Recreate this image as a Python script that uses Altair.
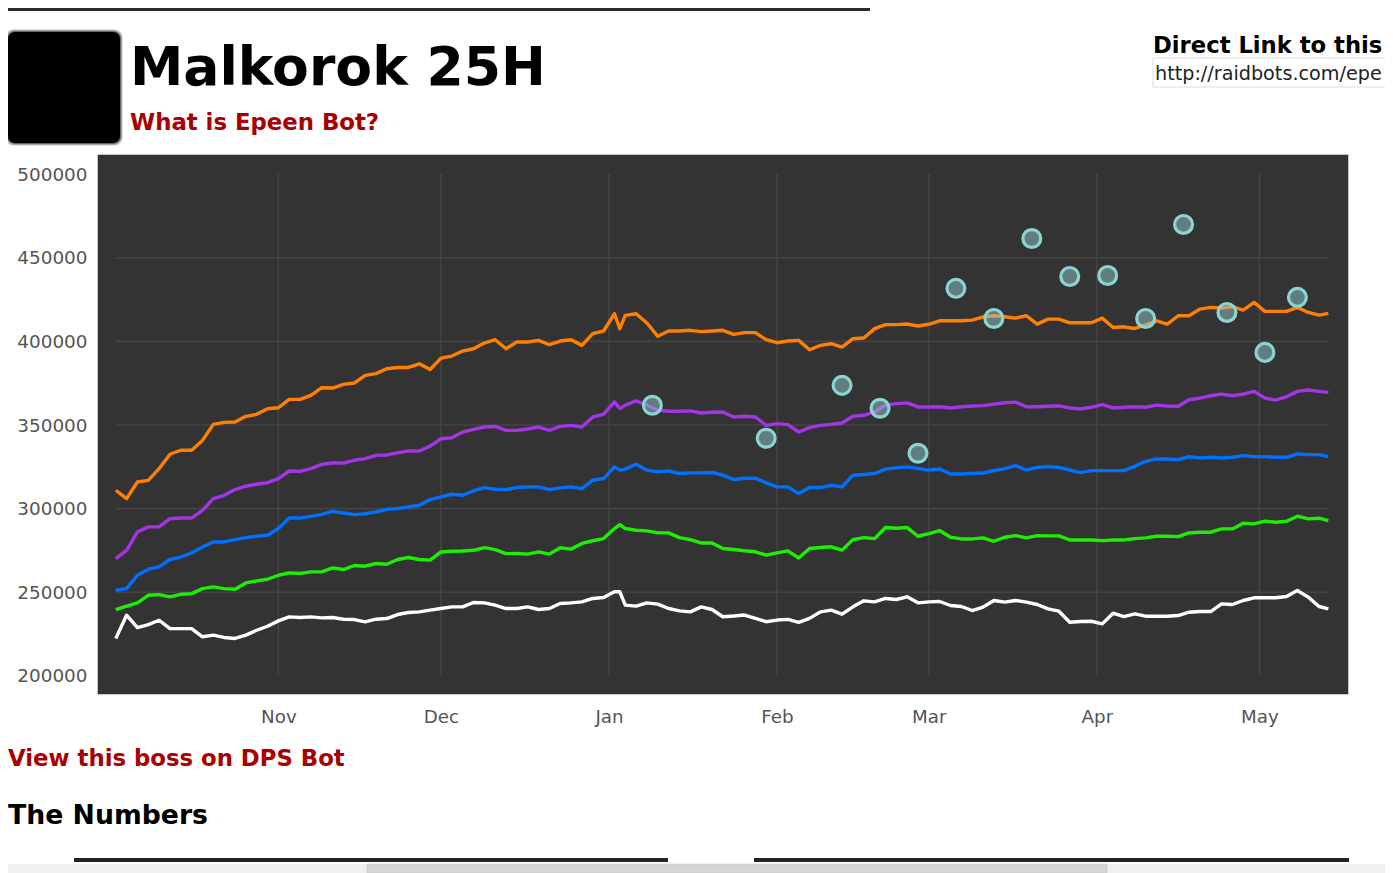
import altair as alt
import pandas as pd
from datetime import datetime, timedelta

# Values in thousands, sampled every two days from 2 Oct 2013 (one extra sample on 3 Jan), last point on 13 May 2014
ORANGE = [311.0,306.0,315.9,316.9,323.9,332.5,334.9,334.9,340.8,350.4,351.6,351.8,355.2,356.4,359.7,360.3,365.3,365.3,367.7,372.3,372.1,374.3,375.1,379.7,380.7,383.6,384.4,384.4,386.6,383.2,390.0,391.2,394.2,395.6,399.0,401.0,395.6,
 399.6,399.6,400.6,398.0,400.2,401.0,397.6,404.6,406.2,416.5,407.6,415.5,416.5,411.0,403.0,406.2,406.2,406.6,405.8,406.2,406.6,404.2,405.2,405.2,401.0,399.2,400.2,400.6,395.0,397.6,398.6,396.6,401.6,402.0,407.6,410.0,410.0,410.4,409.2,410.2,
 412.3,412.3,412.3,412.7,414.7,415.3,414.7,413.9,415.3,410.3,413.3,413.3,411.1,411.1,411.1,413.9,408.3,408.7,407.7,409.9,412.3,410.3,415.3,415.3,419.3,420.3,419.9,420.7,418.7,423.3,417.9,417.9,417.9,420.3,417.3,415.7,416.7]
PURPLE = [270.1,275.1,286.1,289.1,289.1,294.0,294.4,294.4,299.0,306.0,308.0,311.4,313.4,314.6,315.5,317.9,322.5,322.3,323.9,326.5,327.3,327.3,328.9,329.9,331.9,332.1,333.3,334.5,334.5,337.4,341.8,342.4,345.8,347.4,348.8,349.2,346.8,
 346.8,347.6,348.8,346.8,349.2,349.8,348.8,354.8,356.4,363.8,359.8,361.8,364.4,361.8,358.8,358.2,358.2,358.4,357.2,357.6,357.8,354.8,355.2,354.8,349.8,350.8,350.2,345.8,348.4,349.8,350.4,351.2,355.2,355.8,357.8,361.8,362.8,363.2,360.8,360.8,
 360.9,360.2,360.9,361.4,361.6,362.5,363.3,363.7,360.9,360.9,361.2,361.4,360.2,359.6,360.6,362.2,360.2,360.6,360.9,360.6,361.9,361.4,361.2,365.1,366.1,367.5,368.5,367.5,368.5,370.1,366.1,364.9,366.9,370.1,370.9,370.1,369.5]
BLUE = [251.2,252.2,260.2,263.8,265.2,269.6,271.1,273.5,277.1,280.1,280.1,281.5,282.7,283.5,284.1,288.1,294.4,294.4,295.4,296.6,298.4,297.4,296.4,297.0,298.0,299.6,300.0,301.0,302.0,305.4,307.0,308.6,308.0,310.6,312.6,311.6,311.4,
 312.6,313.0,313.0,311.4,312.4,313.0,312.0,317.0,318.0,325.0,323.0,323.6,326.5,323.0,322.0,322.6,321.0,321.4,321.4,321.6,320.0,317.4,318.2,318.2,315.4,313.0,313.0,309.0,312.6,312.6,314.0,313.0,320.0,320.4,321.0,323.6,324.4,325.0,324.0,323.0,
 323.7,320.7,320.7,321.1,321.3,322.7,323.9,325.7,323.1,324.7,325.1,324.7,323.1,321.5,322.7,322.7,322.7,322.7,325.3,328.3,329.7,329.7,329.3,331.1,330.3,330.7,330.3,330.7,331.7,331.1,331.1,330.7,330.7,332.7,332.3,332.3,331.1]
GREEN = [239.7,241.7,243.7,248.2,248.6,247.3,248.8,249.2,252.2,253.2,252.2,251.8,255.6,256.8,257.8,260.2,261.6,261.2,262.2,262.2,264.6,263.6,266.0,265.6,267.2,266.8,269.6,270.8,269.6,269.2,274.1,274.5,274.7,275.1,276.7,275.5,273.1,
 273.2,272.8,274.2,272.8,276.6,275.8,279.2,280.8,282.1,288.1,290.5,288.1,287.1,286.7,285.5,285.5,282.7,281.5,279.5,279.5,276.2,275.6,274.8,274.2,272.2,273.6,274.8,270.5,276.2,276.8,277.2,275.2,281.5,282.7,282.1,288.7,288.3,288.7,283.5,285.1,
 286.9,282.9,281.9,281.9,282.5,280.5,282.9,283.9,282.5,283.9,283.7,283.7,281.3,281.3,281.3,280.9,281.3,281.3,282.1,282.5,283.5,283.5,283.3,285.5,285.9,285.9,287.9,287.9,291.3,290.9,292.5,291.9,292.5,295.5,293.9,294.3,292.9]
WHITE = [222.4,236.3,228.9,230.7,233.3,228.3,228.3,228.3,223.4,224.4,223.0,222.4,224.4,227.3,229.7,232.9,235.3,234.9,235.3,234.7,234.9,233.9,233.7,232.3,233.9,234.3,236.7,237.9,238.3,239.3,240.3,241.3,241.3,243.9,243.7,242.3,240.3,
 240.3,241.3,239.7,240.3,243.3,243.7,244.3,246.3,246.9,250.3,250.3,242.3,241.7,243.7,242.9,240.3,238.9,238.3,241.3,239.7,235.4,235.8,236.4,234.4,232.4,233.4,233.8,232.0,234.4,238.3,239.3,236.9,241.3,244.9,244.3,246.3,245.7,247.3,243.7,244.3,
 244.5,242.1,241.5,239.1,241.1,245.1,244.1,245.1,244.1,242.7,240.1,238.7,232.1,232.5,232.7,231.1,237.5,235.5,237.1,235.7,235.7,235.7,236.1,238.1,238.5,238.5,243.1,242.7,245.1,246.7,246.7,246.7,247.5,251.1,247.1,241.5,240.1]

POINT_DATES = ["2014-01-09","2014-01-30","2014-02-13","2014-02-20","2014-02-27","2014-03-06","2014-03-13","2014-03-20","2014-03-27","2014-04-03","2014-04-10","2014-04-17","2014-04-25","2014-05-02","2014-05-08"]
POINT_VALUES = [361.8,342.1,373.7,360.0,333.1,431.7,413.7,461.5,438.8,439.4,413.7,469.9,417.3,393.4,426.3]

Y_TICKS = [200000,250000,300000,350000,400000,450000,500000]
H_GRID = [250000,300000,350000,400000,450000]
MONTHS = ["2013-11-01","2013-12-01","2014-01-01","2014-02-01","2014-03-01","2014-04-01","2014-05-01"]
SERIES = ["white","green","blue","purple","orange"]
COLORS = ["#ffffff","#1eee00","#0070ff","#a335e6","#ff8000"]

dates = [(datetime(2013,10,2)+timedelta(days=2*i)).strftime("%Y-%m-%dT00:00:00Z") for i in range(112)] + ["2014-05-13T17:00:00Z"]
dates.insert(47, "2014-01-03T00:00:00Z")
rows = []
for name, vals in zip(SERIES, [WHITE, GREEN, BLUE, PURPLE, ORANGE]):
    for d, v in zip(dates, vals):
        rows.append({"date": d, "value": round(v*1000), "series": name})
lines_df = pd.DataFrame(rows)
points_df = pd.DataFrame({"date": [d+"T00:00:00Z" for d in POINT_DATES], "value": [v*1000 for v in POINT_VALUES]})
months_df = pd.DataFrame({"date": [m+"T00:00:00Z" for m in MONTHS], "lo": [200000]*7, "hi": [500000]*7})
hgrid_df = pd.DataFrame({"value": H_GRID, "start": [dates[0]]*5, "end": [dates[-1]]*5})

W, H = 1251, 540
OX, OY = 97, 154  # plot origin on the page

x_scale = alt.Scale(type="utc", domain=[alt.DateTime(year=2013, month=9, date=28, hours=13, utc=True),
                                        alt.DateTime(year=2014, month=5, date=17, hours=8, utc=True)], nice=False)
y_scale = alt.Scale(domain=[189200, 512000], nice=False, zero=False)
x_vals = [alt.DateTime(year=int(m[:4]), month=int(m[5:7]), date=1, utc=True) for m in MONTHS]

x_axis = alt.Axis(values=x_vals, format="%b", title=None, grid=False, domain=False, ticks=False,
                  labelFont="DejaVu Sans", labelFontSize=18.3, labelColor="#555555", labelPadding=14, labelFlush=False)
y_axis = alt.Axis(values=Y_TICKS, format="d", title=None, grid=False, domain=False, ticks=False,
                  labelFont="DejaVu Sans", labelFontSize=18.4, labelColor="#555555", labelPadding=10)

GRID = "#444444"
vgrid = alt.Chart(months_df).mark_rule(color=GRID, strokeWidth=1.6).encode(
    x=alt.X("date:T", scale=x_scale, axis=x_axis),
    y=alt.Y("lo:Q", scale=y_scale, axis=y_axis), y2="hi:Q")
hgrid = alt.Chart(hgrid_df).mark_rule(color=GRID, strokeWidth=1.6).encode(
    x=alt.X("start:T", scale=x_scale), x2="end:T", y=alt.Y("value:Q", scale=y_scale))
lines = alt.Chart(lines_df).mark_line(strokeWidth=3.4, strokeJoin="round").encode(
    x=alt.X("date:T", scale=x_scale), y=alt.Y("value:Q", scale=y_scale),
    color=alt.Color("series:N", scale=alt.Scale(domain=SERIES, range=COLORS), legend=None),
    order=alt.Order("date:T"), detail="series:N")
points = alt.Chart(points_df).mark_point(filled=False, fill="#90c8c8", fillOpacity=0.5, stroke="#8cd4d4", strokeOpacity=1,
                                         strokeWidth=3.2, size=320, shape="circle", opacity=1).encode(
    x=alt.X("date:T", scale=x_scale), y=alt.Y("value:Q", scale=y_scale))

one = pd.DataFrame({"k": [0]})

def box(x0, y0, x1, y1, color, **kw):
    return alt.Chart(one).mark_rect(color=color, **kw).encode(
        x=alt.value(x0-OX), x2=alt.value(x1-OX), y=alt.value(y0-OY), y2=alt.value(y1-OY))

def label(x, y, s, size, color, bold=True):
    return alt.Chart(one).mark_text(align="left", baseline="alphabetic", font="DejaVu Sans",
                                    fontWeight="bold" if bold else "normal", fontSize=size, color=color).encode(
        x=alt.value(x-OX), y=alt.value(y-OY), text=alt.value(s))

RED = "#a80000"
decor = [
    box(8, 8, 870, 11, "#2a2a2a"),
    box(5, 29, 123, 146, "#000000", cornerRadius=9, opacity=0.12),
    box(6, 30, 122, 145, "#000000", cornerRadius=8, opacity=0.25),
    box(7, 31, 121, 144, "#000000", cornerRadius=8, opacity=0.4),
    box(8, 32, 120, 143, "#000000", cornerRadius=7),
    label(130, 85, "Malkorok 25H", 53.6, "#000000"),
    label(130, 130, "What is Epeen Bot?", 22.8, RED),
    label(1153, 53, "Direct Link to this", 22.7, "#000000"),
    box(1153, 58, 1400, 87, "#ffffff", stroke="#dddddd", strokeWidth=1),
    label(1155, 80, "http://raidbots.com/epe", 19.2, "#222222", bold=False),
    label(8, 766, "View this boss on DPS Bot", 22.8, RED),
    label(8, 824, "The Numbers", 26.7, "#000000"),
    box(74, 858, 668, 862, "#222222"),
    box(754, 858, 1349, 862, "#222222"),
    box(8, 864, 1393, 873, "#f0f0f0"),
    box(367, 864, 1107, 873, "#d6d6d6", stroke="#c0c0c0", strokeWidth=0.5),
]

chart = alt.layer(vgrid, hgrid, lines, points, *decor).properties(
    width=W, height=H,
    autosize=alt.AutoSizeParams(type="none"),
    padding={"left": OX-8, "top": OY-8, "right": 1385-OX-W, "bottom": 873-OY-H},
    background="#ffffff",
).configure_view(fill="#333333", stroke="#c8c8c8", strokeWidth=1)

chart.save("out.html", embed_options={"renderer": "svg", "actions": False})
